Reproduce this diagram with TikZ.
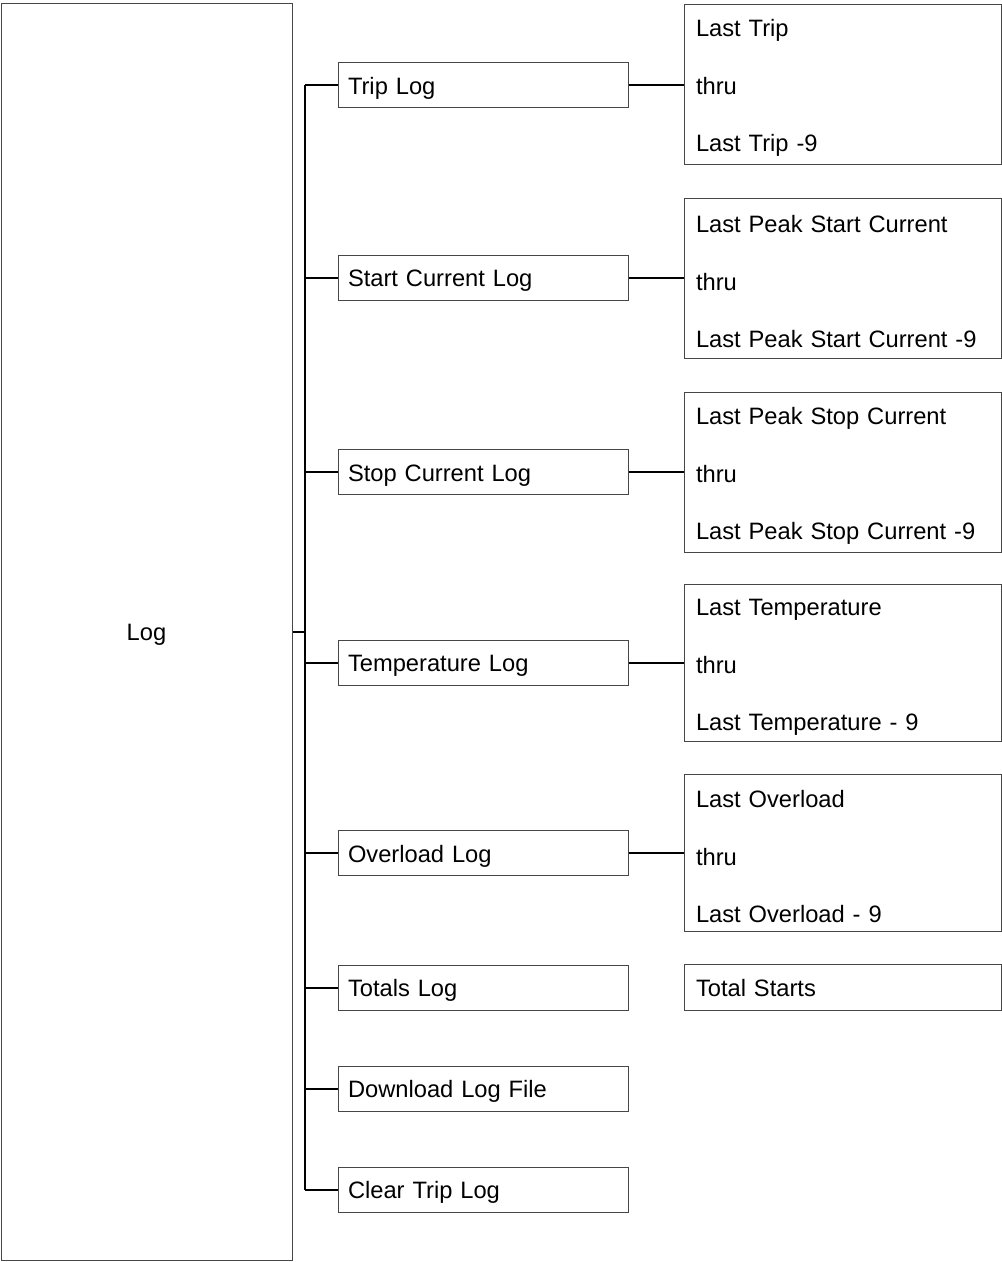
\documentclass[tikz,border=0pt]{standalone}
\usepackage{fontspec}
\setmainfont{Liberation Sans}
\begin{document}
\begin{tikzpicture}[x=1pt,y=-1pt,
  box/.style={draw=black!72, line width=1pt, rectangle, inner ysep=0pt},
  rootbox/.style={box, minimum width=291pt, minimum height=1257pt, text height=23pt, text depth=5pt, font=\fontsize{23.7}{28}\selectfont},
  midbox/.style={box, minimum height=45pt, text width=270pt, inner xsep=10pt, align=left, text height=23pt, text depth=5pt, font=\fontsize{23.7}{28}\selectfont},
  detbox/.style={box, minimum height=160pt, text width=293pt, inner xsep=12pt, align=left, text height=25pt, font=\fontsize{23.7}{57.5}\selectfont},
  onebox/.style={box, minimum height=46pt, text width=293pt, inner xsep=12pt, align=left, text height=23pt, text depth=5pt, font=\fontsize{23.7}{28}\selectfont},
  conn/.style={draw=black, line width=2pt}]
\useasboundingbox (0,0) rectangle (1002,1262);

\node[rootbox] (log) at (146.5,631.5) {Log};

\node[midbox] (trip)  at (483,85)     {Trip Log};
\node[midbox] (start) at (483,277.5)  {Start Current Log};
\node[midbox] (stop)  at (483,472)    {Stop Current Log};
\node[midbox] (temp)  at (483,662.5)  {Temperature Log};
\node[midbox] (over)  at (483,853)    {Overload Log};
\node[midbox] (tot)   at (483,987.5)  {Totals Log};
\node[midbox] (down)  at (483,1088.5) {Download Log File};
\node[midbox] (clear) at (483,1189.5) {Clear Trip Log};

\node[detbox] (tripd)  at (842.5,84)    {Last Trip\\thru\\Last Trip -9};
\node[detbox] (startd) at (842.5,278)   {Last Peak Start Current\\thru\\Last Peak Start Current -9};
\node[detbox] (stopd)  at (842.5,472)   {Last Peak Stop Current\\thru\\Last Peak Stop Current -9};
\node[detbox, minimum height=157pt] (tempd) at (842.5,663) {Last Temperature\\thru\\Last Temperature - 9};
\node[detbox, minimum height=157pt] (overd) at (842.5,853) {Last Overload\\thru\\Last Overload - 9};
\node[onebox] (totd) at (842.5,987.5) {Total Starts};

\coordinate (bt) at (305,85);
\coordinate (bb) at (305,1189.5);
\draw[conn] (bt) -- (bb);
\draw[conn] (log.east) -- (log.east -| bt);
\foreach \n in {trip,start,stop,temp,over,tot,down,clear}
  \draw[conn] (\n.west -| bt) -- (\n.west);
\draw[conn] (trip.east)  -- (trip.east -| tripd.west);
\draw[conn] (start.east) -- (start.east -| startd.west);
\draw[conn] (stop.east)  -- (stop.east -| stopd.west);
\draw[conn] (temp.east)  -- (temp.east -| tempd.west);
\draw[conn] (over.east)  -- (over.east -| overd.west);
\end{tikzpicture}
\end{document}
